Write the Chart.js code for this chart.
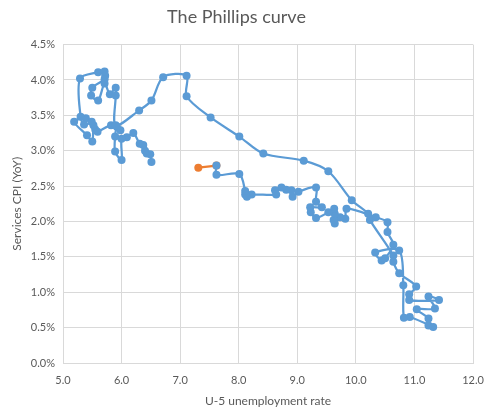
<!DOCTYPE html>
<html>
<head>
<meta charset="utf-8">
<script src="https://cdn.jsdelivr.net/npm/chart.js@4"></script>
<style>
  html, body { margin: 0; padding: 0; background: #fff; }
  #wrap { width: 492px; height: 419px; }
</style>
</head>
<body>
<div id="wrap"><canvas id="chart" width="492" height="419"></canvas></div>
<script>
// U-5 unemployment rate (x) and services CPI YoY in % (y), in time order
const unemployment = [
  6.51, 6.49, 6.43, 6.40, 6.37, 6.31, 6.20, 6.09, 6.00, 6.00, 5.89, 5.89, 5.92, 5.98, 5.82,
  5.59, 5.55, 5.52, 5.50, 5.41, 5.19, 5.39, 5.49, 5.36, 5.30, 5.29, 5.60, 5.71, 5.72, 5.71,
  5.50, 5.48, 5.60, 5.71, 5.80, 5.90, 5.90, 5.90, 6.30, 6.51, 6.71, 7.11, 7.11, 7.52, 8.01,
  8.42, 9.11, 9.53, 9.93, 10.21, 10.24, 10.64, 10.64, 10.74, 11.03, 10.91, 10.91, 11.42, 11.24, 11.35,
  11.04, 11.24, 11.24, 11.32, 10.92, 10.82, 10.81, 10.74, 10.33, 10.44, 10.50, 10.64, 10.54, 10.54, 10.34,
  9.84, 9.82, 9.73, 9.64, 9.62, 9.64, 9.63, 9.53, 9.32, 9.23, 9.22, 9.42, 9.32, 9.32, 9.02,
  8.92, 8.90, 8.81, 8.73, 8.62, 8.64, 8.22, 8.14, 8.11, 8.11, 8.01, 7.62, 7.62
];
const servicesCpi = [
  2.84, 2.95, 2.96, 3.00, 3.08, 3.10, 3.25, 3.19, 3.17, 2.87, 2.99, 3.20, 3.34, 3.29, 3.36,
  3.27, 3.30, 3.36, 3.13, 3.22, 3.41, 3.46, 3.41, 3.37, 3.48, 4.02, 4.11, 4.12, 4.06, 4.01,
  3.89, 3.78, 3.71, 3.95, 3.80, 3.89, 3.78, 3.36, 3.57, 3.71, 4.04, 4.06, 3.77, 3.47, 3.20,
  2.96, 2.86, 2.71, 2.30, 2.11, 2.02, 1.52, 1.43, 1.27, 1.08, 0.97, 0.89, 0.89, 0.94, 0.77,
  0.76, 0.63, 0.53, 0.51, 0.65, 0.64, 1.10, 1.59, 1.56, 1.45, 1.48, 1.67, 1.85, 1.99, 2.06,
  2.18, 2.04, 2.06, 1.97, 2.02, 2.11, 2.18, 2.13, 2.05, 2.13, 2.20, 2.20, 2.28, 2.48, 2.42,
  2.35, 2.44, 2.45, 2.48, 2.44, 2.38, 2.38, 2.35, 2.38, 2.43, 2.67, 2.66, 2.79
];
// latest step, drawn in orange
const latestUnemployment = [7.62, 7.31];
const latestServicesCpi = [2.79, 2.76];

const xTicks = [5, 6, 7, 8, 9, 10, 11, 12];
const yTicks = [0, 0.5, 1, 1.5, 2, 2.5, 3, 3.5, 4, 4.5];

const toPoints = (xs, ys) => xs.map((x, i) => ({ x: x, y: ys[i] }));

const grey = "#595959";
const font = "Lato, 'Open Sans', sans-serif";

new Chart(document.getElementById("chart"), {
  type: "scatter",
  data: {
    datasets: [
      {
        data: toPoints(unemployment, servicesCpi),
        showLine: true,
        tension: 0.3,
        borderColor: "#5B9BD5",
        backgroundColor: "#5B9BD5",
        borderWidth: 2.25,
        pointRadius: 4,
        pointBorderWidth: 0
      },
      {
        data: toPoints(latestUnemployment, latestServicesCpi),
        showLine: true,
        tension: 0,
        borderColor: "#ED7D31",
        backgroundColor: "#ED7D31",
        borderWidth: 2.25,
        pointRadius: 4,
        pointBorderWidth: 0
      }
    ]
  },
  options: {
    responsive: false,
    animation: false,
    layout: { padding: { left: 0, right: 19, top: 0, bottom: 0 } },
    plugins: {
      legend: { display: false },
      tooltip: { enabled: false },
      title: {
        display: true,
        text: "The Phillips curve",
        color: grey,
        font: { family: font, size: 18, weight: "normal" },
        padding: { top: 6, bottom: 17 }
      }
    },
    scales: {
      x: {
        type: "linear",
        min: 5,
        max: 12,
        afterBuildTicks: (scale) => { scale.ticks = xTicks.map(v => ({ value: v })); },
        afterFit: (scale) => {
          scale.height = 56;
          scale.paddingLeft = 0;
          scale.paddingRight = 0;
        },
        ticks: {
          color: grey,
          font: { family: font, size: 11 },
          padding: 11,
          callback: (v) => Number(v).toFixed(1)
        },
        grid: { color: "#d9d9d9", drawTicks: false },
        border: { color: "#d9d9d9" },
        title: {
          display: true,
          text: "U-5 unemployment rate",
          color: grey,
          font: { family: font, size: 12 },
          padding: { top: 4, bottom: 11 }
        }
      },
      y: {
        type: "linear",
        min: 0,
        max: 4.5,
        afterBuildTicks: (scale) => { scale.ticks = yTicks.map(v => ({ value: v })); },
        afterFit: (scale) => { scale.width = 63; },
        ticks: {
          color: grey,
          font: { family: font, size: 11 },
          padding: 8,
          callback: (v) => Number(v).toFixed(1) + "%"
        },
        grid: { color: "#d9d9d9", drawTicks: false },
        border: { color: "#d9d9d9" },
        title: {
          display: true,
          text: "Services CPI (YoY)",
          color: grey,
          font: { family: font, size: 12 },
          padding: { top: 10, bottom: 4 }
        }
      }
    }
  }
});
</script>
</body>
</html>
